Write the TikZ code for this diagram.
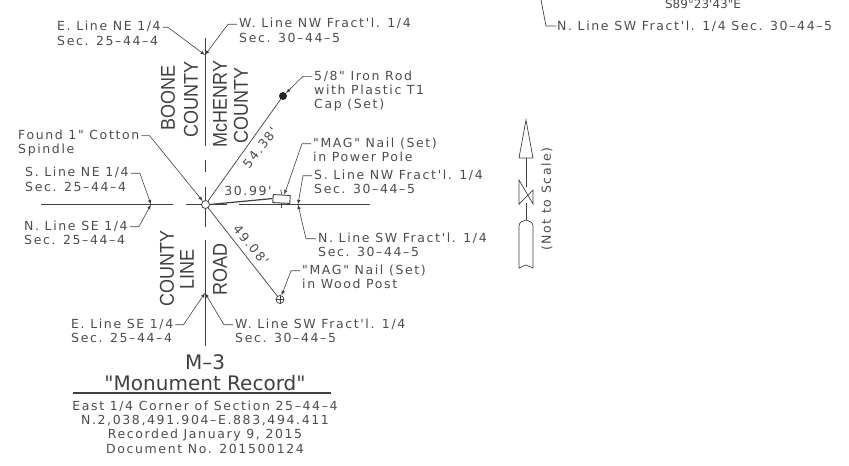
\documentclass[tikz,border=0pt]{standalone}
\usepackage{fontspec}
\setmainfont{DejaVu Sans}
\newfontfamily\lblfont[LetterSpace=13]{DejaVu Sans}
\newfontfamily\bigfont{DejaVu Sans}
\newfontfamily\roadfont[FakeStretch=0.9]{Liberation Sans}
\usetikzlibrary{arrows}
\definecolor{cadtext}{gray}{0.3}
\definecolor{cadline}{gray}{0.25}
\tikzstyle{lbl}=[inner sep=0pt, anchor=west, align=left, text=cadtext, font=\lblfont\fontsize{12.5}{14.4}\selectfont]
\tikzstyle{mid}=[lbl, anchor=center, align=center]
\tikzstyle{big}=[mid, text=black!75, font=\bigfont\fontsize{20}{20}\selectfont]
\tikzstyle{road}=[inner sep=0pt, rotate=90, text=black!75, font=\roadfont\fontsize{20}{20}\selectfont]
\tikzstyle{ldr}=[cadline, line width=0.6pt, ->, >=latex]
\tikzstyle{cl}=[cadline, line width=0.7pt]
\tikzstyle{arw}=[cadline, line width=0.7pt, line join=miter]
\begin{document}
\begin{tikzpicture}[x=1pt, y=-1pt]
 \useasboundingbox (0,0) rectangle (849,466);

 % road center lines
 \draw[cl] (205,38) -- (205,146);
 \draw[cl] (205,160) -- (205,172);
 \draw[cl] (205,187) -- (205,200);
 \draw[cl] (205,208) -- (205,227);
 \draw[cl] (205,240) -- (205,346);
 \draw[cl] (41,204.5) -- (173,204.5);
 \draw[cl] (186,204.5) -- (201,204.5);
 \draw[cl] (209,204.5) -- (227,204.5);
 \draw[cl] (239,204.5) -- (370,204.5);

 \coordinate (crossN) at (205,55);
 \coordinate (crossS) at (205,293);
 \coordinate (crossW) at (151,204.5);
 \coordinate (crossE) at (298,204.5);

 % monuments
 \node[circle, draw=cadline, line width=0.8pt, fill=white, minimum size=8pt, inner sep=0pt] (spindle) at (205.5,204.5) {};
 \node[circle, fill=black!85, minimum size=8pt, inner sep=0pt] (rod) at (283,96) {};
 \node[circle, draw=cadline, line width=0.7pt, minimum size=8pt, inner sep=0pt] (woodnail) at (280,299.5) {};
 \draw[cl] (woodnail.north) -- (woodnail.south);
 \draw[cl] (woodnail.west) -- (woodnail.east);
 \node[draw=cadline, line width=0.9pt, fill=white, minimum width=17pt, minimum height=8pt, inner sep=0pt, rotate=-3] (polenail) at (281.5,199) {};
 \draw[cl] (polenail.north) -- ++(-1,-5);
 \draw[cl] (polenail.south) -- ++(0,5);

 \draw[cl] (spindle) -- (rod);
 \draw[cl] (spindle) -- (woodnail);
 \draw[cl, line width=1.2pt] (spindle.east) -- (polenail.west);

 % labels
 \node[lbl] (eNE) at (57,33.5) {E. Line NE 1/4\\Sec. 25–44–4};
 \node[lbl] (wNW) at (239,30.5) {W. Line NW Fract'l. 1/4\\Sec. 30–44–5};
 \node[lbl] (ironrod) at (314,91) {5/8" Iron Rod\\with Plastic T1\\Cap (Set)};
 \node[lbl] (found) at (18,143) {Found 1" Cotton\\Spindle};
 \node[lbl] (sNE) at (25,179.5) {S. Line NE 1/4\\Sec. 25–44–4};
 \node[lbl] (nSE) at (24,233) {N. Line SE 1/4\\Sec. 25–44–4};
 \node[lbl] (magpole) at (313,150) {"MAG" Nail (Set)\\in Power Pole};
 \node[lbl] (sNW) at (314,182) {S. Line NW Fract'l. 1/4\\Sec. 30–44–5};
 \node[lbl] (nSW) at (318,245) {N. Line SW Fract'l. 1/4\\Sec. 30–44–5};
 \node[lbl] (magpost) at (302,277) {"MAG" Nail (Set)\\in Wood Post};
 \node[lbl] (eSE) at (71,331) {E. Line SE 1/4\\Sec. 25–44–4};
 \node[lbl] (wSW) at (235,331) {W. Line SW Fract'l. 1/4\\Sec. 30–44–5};
 \node[lbl] (nSWtop) at (557,26) {N. Line SW Fract'l. 1/4 Sec. 30–44–5};
 \node[mid, font=\bigfont\fontsize{12}{14}\selectfont] (bearing) at (703,4) {S89°23'43"E};
 \coordinate (topend) at (541,0);

 % leaders
 \draw[ldr] (eNE.north east) ++(2,6) -- ++(5,0) -- (crossN);
 \draw[ldr] (wNW.north west) ++(-2,6) -- ++(-9,0) -- (crossN);
 \draw[ldr] (ironrod.north west) ++(-2,6) -- ++(-9,0) -- (rod);
 \draw[ldr] (found.north east) ++(2,6) -- ++(8,0) -- (spindle);
 \draw[ldr] (sNE.north east) ++(2,6) -- ++(9,0) -- (crossW);
 \draw[ldr] (nSE.north east) ++(2,6) -- ++(9,0) -- (crossW);
 \draw[ldr] (magpole.north west) ++(-2,6) -- ++(-9,0) -- (polenail.60);
 \draw[ldr] (sNW.north west) ++(-2,6) -- ++(-9,0) -- (crossE);
 \draw[ldr] (nSW.north west) ++(-2,6) -- ++(-10,0) -- (crossE);
 \draw[ldr] (magpost.north west) ++(-2,6) -- ++(-9,0) -- (woodnail);
 \draw[ldr] (eSE.north east) ++(2,6) -- ++(8,0) -- (crossS);
 \draw[ldr] (wSW.north west) ++(-2,6) -- ++(-9,0) -- (crossS);
 \draw[cl] (nSWtop.west) ++(-1,0) -- ++(-10,0) -- (topend);

 % distances
 \node[mid, rotate=52] (d54) at (260,148) {54.38'};
 \node[mid] (d30) at (248,191) {30.99'};
 \node[mid, rotate=-50] (d49) at (251,245) {49.08'};

 % road names
 \node[road] (boone) at (168,98) {BOONE};
 \node[road] (boonec) at (191,99) {COUNTY};
 \node[road] (mchenry) at (220,104) {McHENRY};
 \node[road] (mchenryc) at (241,105) {COUNTY};
 \node[road] (county) at (167,268) {COUNTY};
 \node[road] (line) at (187,269) {LINE};
 \node[road] (roadn) at (220,269) {ROAD};

 % title block
 \node[big] (mthree) at (205,362) {M–3};
 \node[big] (title) at (205,383) {"Monument Record"};
 \draw[cadline, line width=1.2pt] (title.south) ++(-132,2) -- ++(258,0);
 \node[mid] (east) at (205,406) {East 1/4 Corner of Section 25–44–4};
 \node[mid] (coords) at (205,421) {N.2,038,491.904–E.883,494.411};
 \node[mid] (recorded) at (205,435) {Recorded January 9, 2015};
 \node[mid] (docno) at (205,449) {Document No. 201500124};

 % north arrow
 \draw[arw] (526,120) -- (533,158) -- (519,158) -- cycle;
 \draw[arw] (526,158) -- (526,187);
 \draw[arw] (519,205) -- (519,180) -- (533,204) -- (533,190) -- (519,204);
 \draw[arw] (526,203) -- (526,220);
 \draw[arw] (519,268) -- (519,226) .. controls (519,222) and (523,221) .. (526,220) .. controls (529,221) and (533,222) .. (533,226) -- (533,268) -- (526,265) -- cycle;
 \node[lbl, anchor=center, rotate=90] (notscale) at (547,199) {(Not to Scale)};
\end{tikzpicture}
\end{document}
